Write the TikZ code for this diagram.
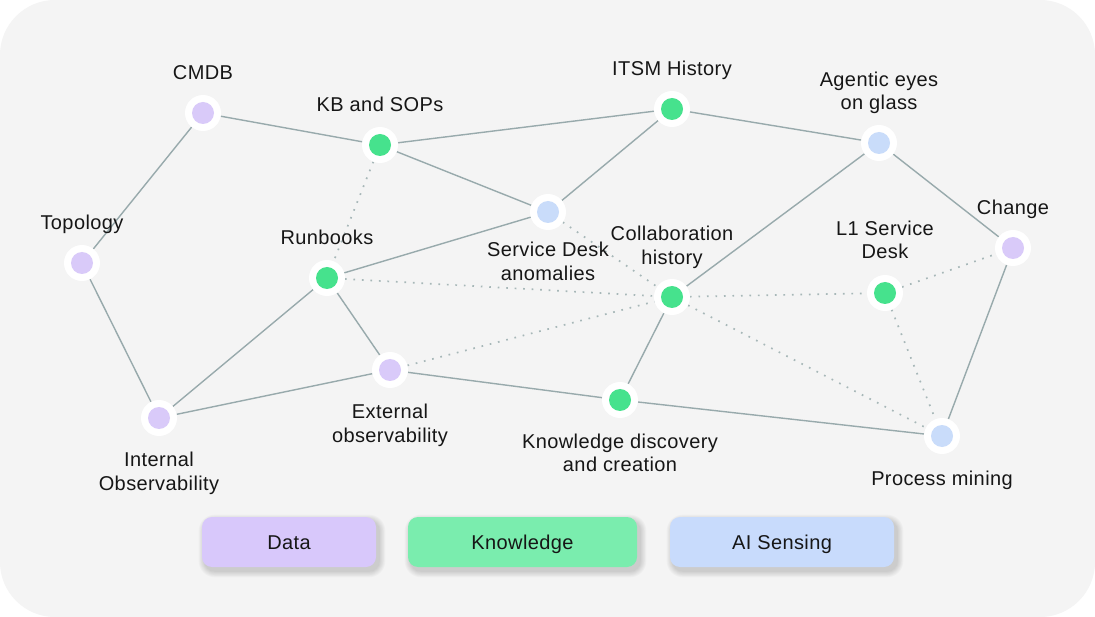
\documentclass[tikz,border=0pt]{standalone}
\usepackage{fontspec}
\setmainfont{Liberation Sans}[LetterSpace=2]
\definecolor{bgc}{HTML}{F4F4F4}
\definecolor{datac}{HTML}{D9CAF9}
\definecolor{knowc}{HTML}{46E28D}
\definecolor{aic}{HTML}{C9DCFA}
\definecolor{datal}{HTML}{D8C8FB}
\definecolor{knowl}{HTML}{7AEDAE}
\definecolor{ail}{HTML}{C8DBFC}
\definecolor{edgec}{HTML}{98AAAC}
\definecolor{txtc}{HTML}{161616}
\pgfdeclarelayer{back}
\pgfsetlayers{back,main}
\newcommand{\lnst}{\strut}
\begin{document}
\begin{tikzpicture}[x=1pt,y=-1pt,
  dotnode/.style={circle, fill=white, minimum size=36pt, inner sep=0pt, outer sep=0pt,
    path picture={\fill[#1] (path picture bounding box.center) circle[radius=11pt];}},
  lab/.style={align=center, text=txtc, font=\fontsize{20}{23.5}\selectfont, inner sep=0pt},
  edge/.style={draw=edgec, line width=1.4pt},
  dotted edge/.style={draw=edgec!85, line width=1.7pt, dash pattern=on 1.7pt off 6.8pt},
  legend/.style={rounded corners=10pt, minimum height=50pt, inner sep=0pt, fill=#1, text=txtc,
    font=\fontsize{20}{23}\selectfont, text height=15pt, text depth=0pt}
]
\useasboundingbox (0,0) rectangle (1095,617);

% nodes
\node[dotnode=datac] (cmdb) at (203,113) {};
\node[dotnode=knowc] (kb) at (380,145) {};
\node[dotnode=knowc] (itsm) at (672,109) {};
\node[dotnode=aic] (agent) at (879,143) {};
\node[dotnode=datac] (topo) at (82,263) {};
\node[dotnode=aic] (sda) at (548,212) {};
\node[dotnode=knowc] (run) at (327,278) {};
\node[dotnode=knowc] (collab) at (672,297) {};
\node[dotnode=knowc] (lone) at (885,293) {};
\node[dotnode=datac] (change) at (1013,248) {};
\node[dotnode=datac] (ext) at (390,370) {};
\node[dotnode=datac] (int) at (159,418) {};
\node[dotnode=knowc] (kd) at (620,400) {};
\node[dotnode=aic] (proc) at (942,436) {};

\begin{pgfonlayer}{back}
\fill[white] (0,0) rectangle (1095,617);
\fill[bgc, rounded corners=55pt] (0,0) rectangle (1095,617);

\path[edge] (cmdb) -- (kb);
\path[edge] (cmdb) -- (topo);
\path[edge] (kb) -- (itsm);
\path[edge] (kb) -- (sda);
\path[edge] (itsm) -- (sda);
\path[edge] (itsm) -- (agent);
\path[edge] (agent) -- (change);
\path[edge] (agent) -- (collab);
\path[edge] (topo) -- (int);
\path[edge] (run) -- (sda);
\path[edge] (run) -- (int);
\path[edge] (run) -- (ext);
\path[edge] (int) -- (ext);
\path[edge] (ext) -- (kd);
\path[edge] (kd) -- (collab);
\path[edge] (kd) -- (proc);
\path[edge] (change) -- (proc);

\path[dotted edge] (kb) -- (run);
\path[dotted edge] (sda) -- (collab);
\path[dotted edge] (run) -- (collab);
\path[dotted edge] (ext) -- (collab);
\path[dotted edge] (collab) -- (lone);
\path[dotted edge] (lone) -- (change);
\path[dotted edge] (collab) -- (proc);
\path[dotted edge] (lone) -- (proc);

% legend shadows
\foreach \bx/\by/\ex/\ey in {202/517/376/567, 408/517/637/567, 670/517/894/567}{
  \foreach \k in {1,...,8}{
    \fill[black, opacity=0.018, rounded corners={10pt+\k*0.8pt}]
      ({\bx+3-\k*0.8},{\by+4-\k*0.8}) rectangle ({\ex+3+\k*0.8},{\ey+4+\k*0.8});
  }
}
\end{pgfonlayer}

% labels
\node[lab] (lcmdb) at (203,74.8) {\lnst CMDB};
\node[lab] (lkb) at (380,106.8) {\lnst KB and SOPs};
\node[lab] (litsm) at (672,71.3) {\lnst ITSM History};
\node[lab] (lagent) at (879,93.4) {\lnst Agentic eyes\\\lnst on glass};
\node[lab] (ltopo) at (82,225) {\lnst Topology};
\node[lab] (lrun) at (327,239.5) {\lnst Runbooks};
\node[lab] (lsda) at (548,263.7) {\lnst Service Desk\\\lnst anomalies};
\node[lab] (lcollab) at (672,247.7) {\lnst Collaboration\\\lnst history};
\node[lab] (llone) at (885,242.4) {\lnst L1 Service\\\lnst Desk};
\node[lab] (lchange) at (1013,210.3) {\lnst Change};
\node[lab] (lext) at (390,426) {\lnst External\\\lnst observability};
\node[lab] (lint) at (159,474) {\lnst Internal\\\lnst Observability};
\node[lab] (lkd) at (620,455.5) {\lnst Knowledge discovery\\\lnst and creation};
\node[lab] (lproc) at (942,480.3) {\lnst Process mining};

% legend
\node[legend=datal, minimum width=174pt] (ldata) at (289,542) {Data};
\node[legend=knowl, minimum width=229pt] (lknow) at (522.5,542) {Knowledge};
\node[legend=ail, minimum width=224pt] (lai) at (782,542) {AI Sensing};
\end{tikzpicture}
\end{document}
